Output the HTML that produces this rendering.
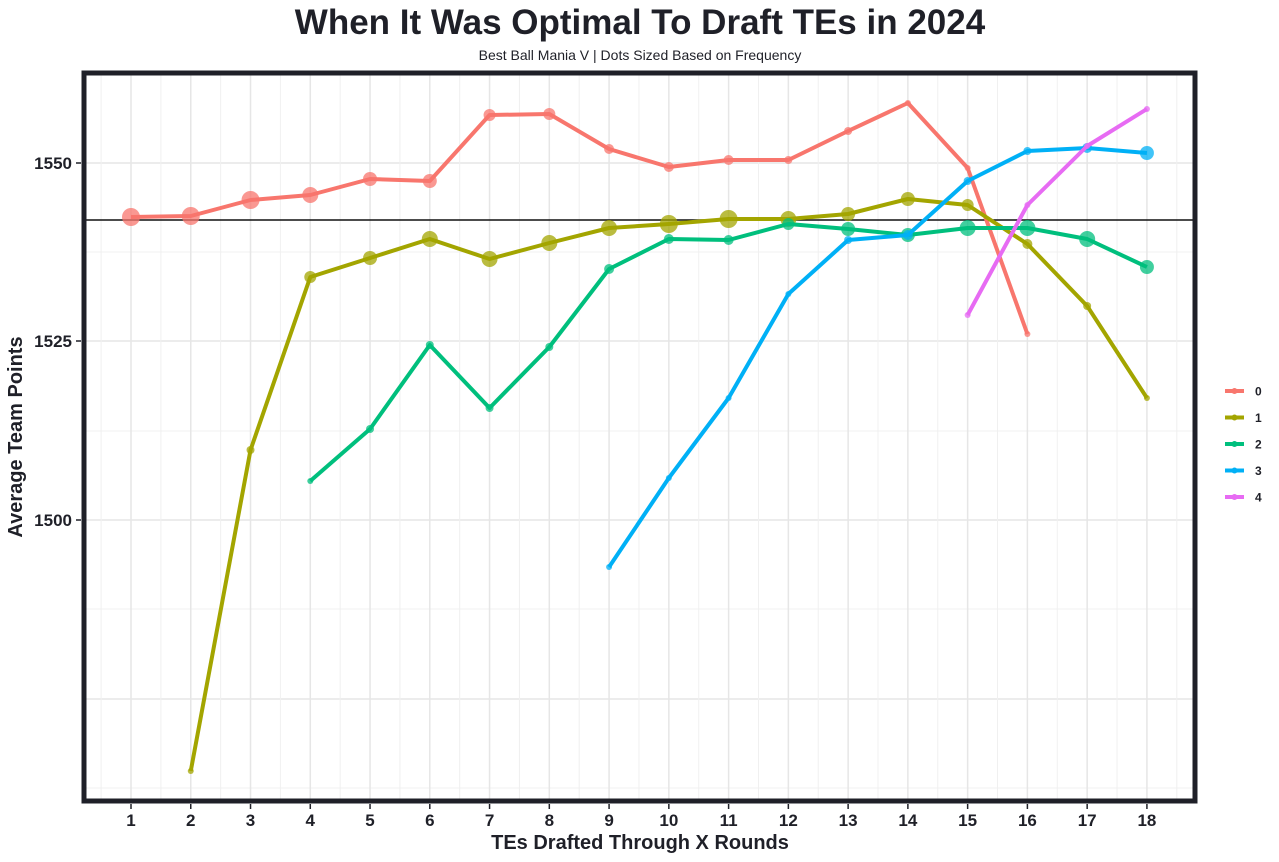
<!DOCTYPE html><html><head><meta charset="utf-8"><style>body{margin:0;background:#fff}svg{display:block;font-family:"Liberation Sans",sans-serif}</style></head><body>
<svg width="1279" height="862" xmlns="http://www.w3.org/2000/svg">
<text x="640" y="34" text-anchor="middle" font-size="35" font-weight="bold" fill="#1f2028">When It Was Optimal To Draft TEs in 2024</text>
<text x="640" y="60" text-anchor="middle" font-size="14" fill="#1f2028">Best Ball Mania V | Dots Sized Based on Frequency</text>
<g id="grid"></g>
<g id="plot"></g>
<rect x="84" y="73" width="1111" height="728" fill="none" stroke="#1f2028" stroke-width="5"/>
<g font-size="17" font-weight="bold" fill="#1f2028" text-anchor="end">
<text x="72" y="169">1550</text><text x="72" y="347">1525</text><text x="72" y="526">1500</text></g>
<g stroke="#1f2028" stroke-width="1.5"><line x1="76" x2="81" y1="163" y2="163"/><line x1="76" x2="81" y1="341" y2="341"/><line x1="76" x2="81" y1="520" y2="520"/></g>
<g id="xt" font-size="17" font-weight="bold" fill="#1f2028" text-anchor="middle"></g>
<text x="640" y="849" text-anchor="middle" font-size="20" font-weight="bold" fill="#1f2028">TEs Drafted Through X Rounds</text>
<text transform="translate(22,437) rotate(-90)" text-anchor="middle" font-size="20" font-weight="bold" fill="#1f2028">Average Team Points</text>
<g id="leg" font-size="12" font-weight="bold" fill="#1f2028"></g>
<script>
var ns="http://www.w3.org/2000/svg";function el(p,t,a){var e=document.createElementNS(ns,t);for(var k in a)e.setAttribute(k,a[k]);p.appendChild(e);return e}
var X=function(i){return 131+(i-1)*59.76};
var g=document.getElementById('grid');
[163,341,520,699].forEach(function(y){el(g,'line',{x1:86,x2:1193,y1:y,y2:y,stroke:'#e6e6e6','stroke-width':1.5})});
[252,431,609,788].forEach(function(y){el(g,'line',{x1:86,x2:1193,y1:y,y2:y,stroke:'#f0f0f0','stroke-width':1})});
for(var i=1;i<=18;i++){el(g,'line',{x1:X(i),x2:X(i),y1:75,y2:799,stroke:'#e6e6e6','stroke-width':1.5});el(g,'line',{x1:X(i)-29.88,x2:X(i)-29.88,y1:75,y2:799,stroke:'#f0f0f0','stroke-width':1});
var xt=document.getElementById('xt');el(xt,'line',{x1:X(i),x2:X(i),y1:804,y2:809,stroke:'#1f2028','stroke-width':1.5});el(xt,'text',{x:X(i),y:826}).textContent=i;}
el(g,'line',{x1:X(18)+29.88,x2:X(18)+29.88,y1:75,y2:799,stroke:'#f0f0f0','stroke-width':1});
el(g,'line',{x1:86,x2:1193,y1:220,y2:220,stroke:'#111','stroke-width':1.5});
var S=[['#F8766D',[[1,217,9],[2,216,9],[3,200,9],[4,195,8],[5,179,7],[6,181,7],[7,115,6],[8,114,6],[9,149,5],[10,167,5],[11,160,5],[12,160,4],[13,131,4],[14,103,3],[15,168,3],[16,334,3]]],
['#A3A500',[[2,771,3],[3,450,4],[4,277,6],[5,258,7],[6,239,8],[7,259,8],[8,243,8],[9,228,8],[10,224,9],[11,219,9],[12,219,8],[13,214,7],[14,199,7],[15,205,6],[16,244,5],[17,306,4],[18,398,3]]],
['#00BF7D',[[4,481,3],[5,429,4],[6,345,4],[7,408,4],[8,347,4],[9,269,5],[10,239,5],[11,240,5],[12,224,6],[13,229,7],[14,235,7],[15,228,8],[16,228,8],[17,239,8],[18,267,7]]],
['#00B0F6',[[9,567,3],[10,478,3],[11,398,3],[12,294,3],[13,240,4],[14,235,5],[15,181,4],[16,151,4],[17,148,5],[18,153,7]]],
['#E76BF3',[[15,315,3],[16,205,3],[17,146,3],[18,109,3]]]];
var p=document.getElementById('plot'),lg=document.getElementById('leg');
S.forEach(function(s,k){el(p,'polyline',{points:s[1].map(function(d){return X(d[0])+','+d[1]}).join(' '),fill:'none',stroke:s[0],'stroke-width':4,'stroke-linejoin':'round'});
s[1].forEach(function(d){el(p,'circle',{cx:X(d[0]),cy:d[1],r:d[2],fill:s[0],'fill-opacity':0.75})});
var y=391+k*26.5;el(lg,'line',{x1:1225,x2:1244,y1:y,y2:y,stroke:s[0],'stroke-width':4});el(lg,'circle',{cx:1234.5,cy:y,r:3,fill:s[0]});el(lg,'text',{x:1255,y:y+4.5}).textContent=k;});
</script>
</svg></body></html>
